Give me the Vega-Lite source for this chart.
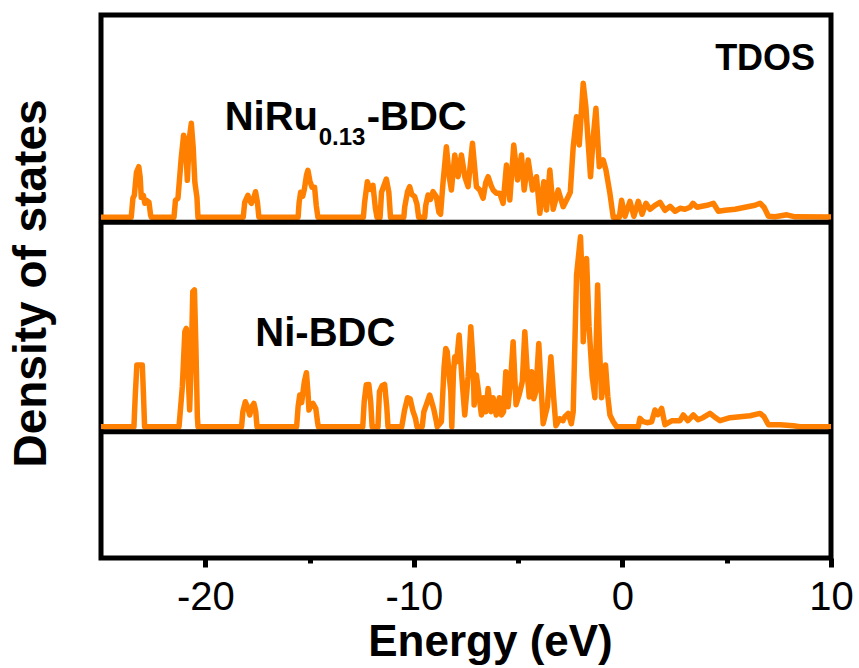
{
  "$schema": "https://vega.github.io/schema/vega-lite/v6.json",
  "width": 730,
  "height": 543,
  "autosize": "none",
  "padding": {"left": 101, "top": 15, "right": 28, "bottom": 110},
  "background": "white",
  "config": {
    "view": {"stroke": "black", "strokeWidth": 5},
    "axis": {"grid": false},
    "text": {"font": "Liberation Sans", "fontWeight": "bold", "color": "black"}
  },
  "datasets": {
    "niru": [
      {"E": -25, "D": 0}, {"E": -23.55, "D": 0}, {"E": -23.47, "D": 1.9}, {"E": -23.4, "D": 2.2}, {"E": -23.3, "D": 4.5}, {"E": -23.19, "D": 5.06}, {"E": -23.12, "D": 4.0}, {"E": -23.07, "D": 2.0}, {"E": -22.97, "D": 2.2}, {"E": -22.9, "D": 1.4}, {"E": -22.83, "D": 1.7}, {"E": -22.7, "D": 1.5}, {"E": -22.62, "D": 0.2}, {"E": -22.59, "D": 0},
      {"E": -21.5, "D": 0}, {"E": -21.43, "D": 1.7}, {"E": -21.31, "D": 1.9}, {"E": -21.15, "D": 6.0}, {"E": -21.04, "D": 8.2}, {"E": -20.95, "D": 7.5}, {"E": -20.86, "D": 3.7}, {"E": -20.76, "D": 8.0}, {"E": -20.67, "D": 9.4}, {"E": -20.58, "D": 7.0}, {"E": -20.5, "D": 3.5}, {"E": -20.4, "D": 2.0}, {"E": -20.35, "D": 0},
      {"E": -18.18, "D": 0}, {"E": -18.11, "D": 1.5}, {"E": -17.96, "D": 2.2}, {"E": -17.85, "D": 1.6}, {"E": -17.79, "D": 1.4}, {"E": -17.7, "D": 1.8}, {"E": -17.59, "D": 2.56}, {"E": -17.5, "D": 1.5}, {"E": -17.43, "D": 0},
      {"E": -15.55, "D": 0}, {"E": -15.5, "D": 1.5}, {"E": -15.43, "D": 2.5}, {"E": -15.33, "D": 2.1}, {"E": -15.25, "D": 2.8}, {"E": -15.15, "D": 4.2}, {"E": -15.08, "D": 4.7}, {"E": -14.98, "D": 3.6}, {"E": -14.88, "D": 3.0}, {"E": -14.76, "D": 3.0}, {"E": -14.68, "D": 1.2}, {"E": -14.6, "D": 0},
      {"E": -12.42, "D": 0}, {"E": -12.36, "D": 1.5}, {"E": -12.23, "D": 3.56}, {"E": -12.1, "D": 2.8}, {"E": -11.96, "D": 3.2}, {"E": -11.85, "D": 1.0}, {"E": -11.77, "D": 0}, {"E": -11.62, "D": 0}, {"E": -11.55, "D": 2.5}, {"E": -11.32, "D": 3.83}, {"E": -11.2, "D": 2.5}, {"E": -11.12, "D": 0},
      {"E": -10.48, "D": 0}, {"E": -10.44, "D": 1.0}, {"E": -10.3, "D": 2.6}, {"E": -10.2, "D": 3.06}, {"E": -10.1, "D": 2.3}, {"E": -9.96, "D": 2.06}, {"E": -9.85, "D": 1.3}, {"E": -9.77, "D": 0},
      {"E": -9.48, "D": 0}, {"E": -9.43, "D": 1.2}, {"E": -9.32, "D": 2.23}, {"E": -9.2, "D": 1.8}, {"E": -9.08, "D": 2.56}, {"E": -8.92, "D": 2.06}, {"E": -8.8, "D": 0.5}, {"E": -8.72, "D": 0.3}, {"E": -8.6, "D": 3.5}, {"E": -8.44, "D": 7.06}, {"E": -8.3, "D": 4.0}, {"E": -8.2, "D": 2.73}, {"E": -8.04, "D": 6.23}, {"E": -7.88, "D": 4.06}, {"E": -7.72, "D": 6.23}, {"E": -7.55, "D": 4.0}, {"E": -7.4, "D": 3.06}, {"E": -7.19, "D": 7.4}, {"E": -7.0, "D": 3.06}, {"E": -6.84, "D": 2.73}, {"E": -6.68, "D": 1.9}, {"E": -6.55, "D": 3.5}, {"E": -6.44, "D": 4.06}, {"E": -6.3, "D": 3.2}, {"E": -6.2, "D": 2.73}, {"E": -6.04, "D": 2.4}, {"E": -5.88, "D": 2.4}, {"E": -5.72, "D": 1.4}, {"E": -5.56, "D": 5.23}, {"E": -5.4, "D": 1.73}, {"E": -5.21, "D": 7.23}, {"E": -5.03, "D": 3.73}, {"E": -4.84, "D": 6.23}, {"E": -4.71, "D": 2.73}, {"E": -4.52, "D": 5.73}, {"E": -4.31, "D": 2.73}, {"E": -4.12, "D": 4.06}, {"E": -3.96, "D": 0.4}, {"E": -3.77, "D": 3.56}, {"E": -3.64, "D": 0.73}, {"E": -3.48, "D": 4.73}, {"E": -3.32, "D": 0.8}, {"E": -3.08, "D": 2.73}, {"E": -2.84, "D": 1.06}, {"E": -2.6, "D": 2.06}, {"E": -2.5, "D": 2.5}, {"E": -2.36, "D": 7.06}, {"E": -2.2, "D": 10.06}, {"E": -2.07, "D": 7.23}, {"E": -1.88, "D": 13.4}, {"E": -1.75, "D": 11.0}, {"E": -1.64, "D": 7.4}, {"E": -1.53, "D": 4.06}, {"E": -1.4, "D": 8.0}, {"E": -1.27, "D": 10.9}, {"E": -1.11, "D": 5.06}, {"E": -0.92, "D": 5.73}, {"E": -0.79, "D": 4.73}, {"E": -0.6, "D": 2.4}, {"E": -0.44, "D": 0},
      {"E": -0.15, "D": 0}, {"E": -0.04, "D": 1.7}, {"E": 0.12, "D": 0.1}, {"E": 0.36, "D": 1.6}, {"E": 0.55, "D": 0.1}, {"E": 0.76, "D": 1.6}, {"E": 0.94, "D": 0.3}, {"E": 1.13, "D": 1.4}, {"E": 1.32, "D": 0.8}, {"E": 1.56, "D": 1.2}, {"E": 1.8, "D": 1.5}, {"E": 2.04, "D": 0.7}, {"E": 2.28, "D": 1.1}, {"E": 2.52, "D": 0.6}, {"E": 2.76, "D": 0.9}, {"E": 3.0, "D": 0.8}, {"E": 3.24, "D": 1.0}, {"E": 3.38, "D": 1.4}, {"E": 3.58, "D": 1.0}, {"E": 3.81, "D": 1.1}, {"E": 4.05, "D": 1.2}, {"E": 4.36, "D": 1.4}, {"E": 4.6, "D": 0.6}, {"E": 4.92, "D": 0.7}, {"E": 5.4, "D": 0.8}, {"E": 5.88, "D": 1.0}, {"E": 6.36, "D": 1.2}, {"E": 6.6, "D": 1.4}, {"E": 6.79, "D": 1.0}, {"E": 7.0, "D": 0.1}, {"E": 7.32, "D": 0.05}, {"E": 7.88, "D": 0.25}, {"E": 8.28, "D": 0.05}, {"E": 10.0, "D": 0.02}
    ],
    "ni": [
      {"E": -25, "D": 0}, {"E": -23.42, "D": 0}, {"E": -23.36, "D": 3.0}, {"E": -23.28, "D": 6.17}, {"E": -23.02, "D": 6.17}, {"E": -22.96, "D": 3.0}, {"E": -22.91, "D": 0},
      {"E": -21.26, "D": 0}, {"E": -21.1, "D": 4.0}, {"E": -20.98, "D": 9.5}, {"E": -20.91, "D": 9.83}, {"E": -20.84, "D": 6.0}, {"E": -20.75, "D": 1.67}, {"E": -20.68, "D": 6.0}, {"E": -20.6, "D": 13.5}, {"E": -20.52, "D": 13.67}, {"E": -20.45, "D": 8.0}, {"E": -20.38, "D": 1.0}, {"E": -20.35, "D": 0},
      {"E": -18.26, "D": 0}, {"E": -18.2, "D": 1.5}, {"E": -18.08, "D": 2.5}, {"E": -17.98, "D": 2.0}, {"E": -17.87, "D": 1.17}, {"E": -17.77, "D": 2.0}, {"E": -17.67, "D": 2.33}, {"E": -17.58, "D": 1.5}, {"E": -17.52, "D": 0},
      {"E": -15.62, "D": 0}, {"E": -15.55, "D": 2.0}, {"E": -15.47, "D": 3.17}, {"E": -15.38, "D": 2.4}, {"E": -15.25, "D": 4.5}, {"E": -15.15, "D": 5.4}, {"E": -15.08, "D": 3.5}, {"E": -15.03, "D": 1.67}, {"E": -14.92, "D": 2.2}, {"E": -14.84, "D": 2.33}, {"E": -14.7, "D": 1.8}, {"E": -14.62, "D": 0.5}, {"E": -14.58, "D": 0},
      {"E": -12.45, "D": 0}, {"E": -12.38, "D": 2.5}, {"E": -12.28, "D": 4.2}, {"E": -12.16, "D": 4.23}, {"E": -12.07, "D": 2.5}, {"E": -12.0, "D": 0}, {"E": -11.72, "D": 0}, {"E": -11.65, "D": 3.5}, {"E": -11.52, "D": 4.1}, {"E": -11.4, "D": 4.23}, {"E": -11.3, "D": 2.0}, {"E": -11.24, "D": 0},
      {"E": -10.58, "D": 0}, {"E": -10.45, "D": 1.6}, {"E": -10.3, "D": 2.9}, {"E": -10.18, "D": 2.8}, {"E": -10.05, "D": 1.6}, {"E": -9.92, "D": 0.8}, {"E": -9.85, "D": 0}, {"E": -9.6, "D": 0}, {"E": -9.52, "D": 1.5}, {"E": -9.4, "D": 2.2}, {"E": -9.24, "D": 3.17}, {"E": -9.05, "D": 1.8}, {"E": -8.92, "D": 0.5}, {"E": -8.88, "D": 0},
      {"E": -8.68, "D": 0.5}, {"E": -8.55, "D": 6.0}, {"E": -8.47, "D": 7.83}, {"E": -8.4, "D": 7.5}, {"E": -8.3, "D": 5.0}, {"E": -8.23, "D": 3.5}, {"E": -8.18, "D": 0}, {"E": -8.1, "D": 5.5}, {"E": -8.04, "D": 7.0}, {"E": -7.95, "D": 6.5}, {"E": -7.83, "D": 9.17}, {"E": -7.7, "D": 5.0}, {"E": -7.56, "D": 1.17}, {"E": -7.4, "D": 5.0}, {"E": -7.27, "D": 10.0}, {"E": -7.15, "D": 6.0}, {"E": -7.11, "D": 2.17}, {"E": -7.0, "D": 5.17}, {"E": -6.9, "D": 3.5}, {"E": -6.76, "D": 1.17}, {"E": -6.66, "D": 2.9}, {"E": -6.55, "D": 1.5}, {"E": -6.44, "D": 3.83}, {"E": -6.3, "D": 1.5}, {"E": -6.2, "D": 2.9}, {"E": -6.05, "D": 1.17}, {"E": -5.9, "D": 2.9}, {"E": -5.8, "D": 1.17}, {"E": -5.7, "D": 1.5}, {"E": -5.59, "D": 5.5}, {"E": -5.48, "D": 2.0}, {"E": -5.35, "D": 5.0}, {"E": -5.24, "D": 8.5}, {"E": -5.1, "D": 2.2}, {"E": -4.95, "D": 3.2}, {"E": -4.8, "D": 4.5}, {"E": -4.68, "D": 9.5}, {"E": -4.55, "D": 5.0}, {"E": -4.47, "D": 2.97}, {"E": -4.35, "D": 5.5}, {"E": -4.25, "D": 2.8}, {"E": -4.15, "D": 3.5}, {"E": -4.01, "D": 8.33}, {"E": -3.9, "D": 4.0}, {"E": -3.8, "D": 0.3}, {"E": -3.6, "D": 2.0}, {"E": -3.43, "D": 7.0}, {"E": -3.3, "D": 3.0}, {"E": -3.19, "D": 0.1}, {"E": -3.0, "D": 0.8}, {"E": -2.85, "D": 0.6}, {"E": -2.76, "D": 1.0}, {"E": -2.6, "D": 1.33}, {"E": -2.45, "D": 0.3}, {"E": -2.36, "D": 1.5}, {"E": -2.2, "D": 15.17}, {"E": -2.01, "D": 19.0}, {"E": -1.92, "D": 14.0}, {"E": -1.88, "D": 8.5}, {"E": -1.8, "D": 12.0}, {"E": -1.72, "D": 16.83}, {"E": -1.6, "D": 10.0}, {"E": -1.45, "D": 5.0}, {"E": -1.32, "D": 2.9}, {"E": -1.19, "D": 14.17}, {"E": -1.1, "D": 8.0}, {"E": -1.0, "D": 2.9}, {"E": -0.9, "D": 4.5}, {"E": -0.81, "D": 6.17}, {"E": -0.7, "D": 3.0}, {"E": -0.6, "D": 1.17}, {"E": -0.44, "D": 0.5}, {"E": -0.28, "D": 0},
      {"E": 0.76, "D": 0}, {"E": 0.84, "D": 0.83}, {"E": 1.0, "D": 0.5}, {"E": 1.18, "D": 0.4}, {"E": 1.4, "D": 0.5}, {"E": 1.56, "D": 1.67}, {"E": 1.7, "D": 1.2}, {"E": 1.88, "D": 1.83}, {"E": 2.04, "D": 0.2}, {"E": 2.38, "D": 0.6}, {"E": 2.76, "D": 0.6}, {"E": 2.92, "D": 1.17}, {"E": 3.14, "D": 0.6}, {"E": 3.4, "D": 1.17}, {"E": 3.62, "D": 0.7}, {"E": 3.86, "D": 0.9}, {"E": 4.2, "D": 1.33}, {"E": 4.4, "D": 1.0}, {"E": 4.68, "D": 0.6}, {"E": 5.16, "D": 0.9}, {"E": 5.64, "D": 1.0}, {"E": 6.12, "D": 1.1}, {"E": 6.6, "D": 1.33}, {"E": 6.79, "D": 1.0}, {"E": 7.0, "D": 0.2}, {"E": 7.56, "D": 0.2}, {"E": 8.2, "D": 0.1}, {"E": 8.5, "D": 0}, {"E": 10.0, "D": 0}
    ],
    "sep": [{"D": -0.5}],
    "labA": [
      {"E": -19.07, "D": 8.78, "t": "NiRu"},
      {"E": -12.26, "D": 8.78, "t": "-BDC"}
    ],
    "subA": [{"E": -14.56, "D": 7.23, "t": "0.13"}],
    "tdos": [{"E": 9.24, "D": 14.73, "t": "TDOS"}],
    "labB": [{"E": -17.6, "D": 8.07, "t": "Ni-BDC"}]
  },
  "layer": [
    {
      "encoding": {
        "y": {
          "field": "D", "type": "quantitative",
          "scale": {"domain": [-34.07, 20.23], "nice": false, "zero": false},
          "axis": {
            "title": "Density of states", "ticks": false, "labels": false, "domain": false, "grid": false,
            "titleFont": "Liberation Sans", "titleFontSize": 46, "titleFontWeight": "bold", "titleColor": "black",
            "titleAngle": -90, "titleBaseline": "alphabetic", "titleAlign": "center", "titleX": -56, "titleY": 268
          }
        }
      },
      "layer": [
        {
          "data": {"name": "niru"},
          "mark": {"type": "line", "color": "#ff8000", "strokeWidth": 5.5, "strokeJoin": "round", "clip": false},
          "encoding": {
            "x": {
              "field": "E", "type": "quantitative",
              "scale": {"domain": [-25, 10], "nice": false, "zero": false},
              "axis": {
                "values": [-20, -15, -10, -5, 0, 5, 10],
                "labelExpr": "datum.value % 10 === 0 ? '' + datum.value : ''",
                "tickSize": {"condition": {"test": "datum.value % 10 === 0", "value": 9}, "value": 5},
                "tickWidth": 5, "tickColor": "black", "domain": false, "grid": false,
                "labelFont": "Liberation Sans", "labelFontSize": 40, "labelColor": "black", "labelPadding": 10,
                "labelFlush": false, "labelOverlap": false,
                "title": "Energy (eV)", "titleFont": "Liberation Sans", "titleFontWeight": "bold", "titleFontSize": 44,
                "titleColor": "black", "titleX": 389, "titleY": 97, "titleBaseline": "alphabetic", "titleAlign": "center"
              }
            }
          }
        },
        {
          "data": {"name": "sep"},
          "mark": {"type": "rule", "color": "black", "strokeWidth": 5},
          "encoding": {"y": {"field": "D", "type": "quantitative"}}
        },
        {
          "data": {"name": "labA"},
          "mark": {"type": "text", "fontSize": 40, "align": "left", "baseline": "alphabetic"},
          "encoding": {"x": {"field": "E", "type": "quantitative"}, "text": {"field": "t"}}
        },
        {
          "data": {"name": "subA"},
          "mark": {"type": "text", "fontSize": 24, "align": "left", "baseline": "alphabetic"},
          "encoding": {"x": {"field": "E", "type": "quantitative"}, "text": {"field": "t"}}
        },
        {
          "data": {"name": "tdos"},
          "mark": {"type": "text", "fontSize": 36, "align": "right", "baseline": "alphabetic"},
          "encoding": {"x": {"field": "E", "type": "quantitative"}, "text": {"field": "t"}}
        }
      ]
    },
    {
      "encoding": {
        "y": {
          "field": "D", "type": "quantitative",
          "scale": {"domain": [-13.13, 41.17], "nice": false, "zero": false},
          "axis": null
        }
      },
      "layer": [
        {
          "data": {"name": "ni"},
          "mark": {"type": "line", "color": "#ff8000", "strokeWidth": 5.5, "strokeJoin": "round", "clip": false},
          "encoding": {"x": {"field": "E", "type": "quantitative"}}
        },
        {
          "data": {"name": "sep"},
          "mark": {"type": "rule", "color": "black", "strokeWidth": 5},
          "encoding": {"y": {"field": "D", "type": "quantitative"}}
        },
        {
          "data": {"name": "labB"},
          "mark": {"type": "text", "fontSize": 40, "align": "left", "baseline": "alphabetic"},
          "encoding": {"x": {"field": "E", "type": "quantitative"}, "text": {"field": "t"}}
        }
      ]
    }
  ],
  "resolve": {"scale": {"y": "independent"}}
}
